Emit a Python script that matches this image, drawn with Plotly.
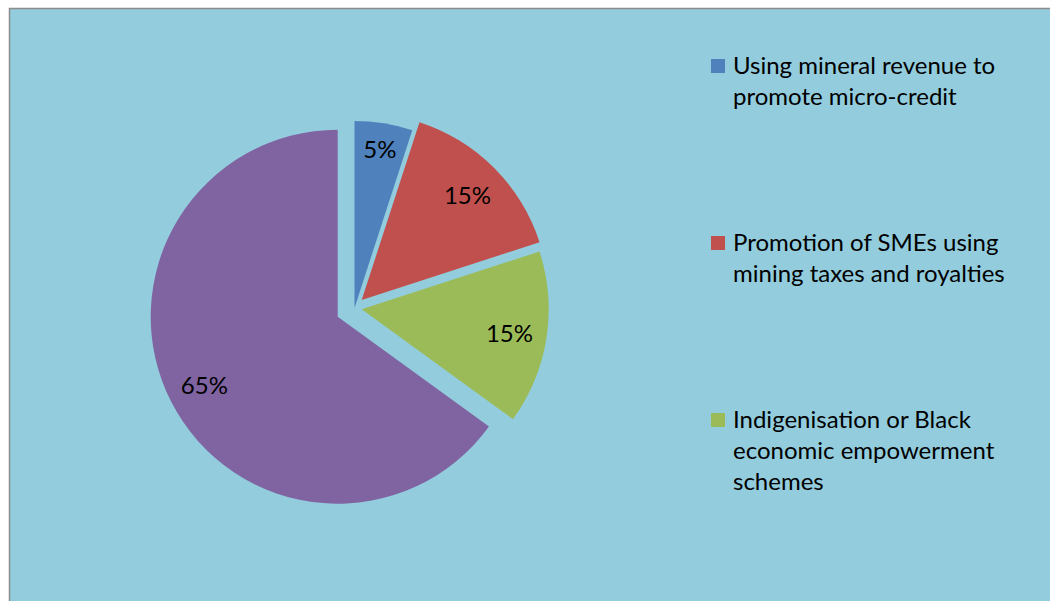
import plotly.graph_objects as go

# --- data -------------------------------------------------------------
categories = [
    "Using mineral revenue to promote micro-credit",
    "Promotion of SMEs using mining taxes and royalties",
    "Indigenisation or Black economic empowerment schemes",
    "Other",
]
shares = [5, 15, 15, 65]
legend_lines = [
    "Using mineral revenue to<br>promote micro-credit",
    "Promotion of SMEs using<br>mining taxes and royalties",
    "Indigenisation or Black<br>economic empowerment<br>schemes",
]

# --- styling / layout constants ----------------------------------------
W, H = 1050, 601
FONT = "Lato"
SLICE_COLORS = ["#4F81BD", "#C0504D", "#9BBB59", "#8064A2"]
CLEAR = "rgba(0,0,0,0)"
BG = "#93CDDD"
PIE_CX, PIE_CY, PIE_R = 337.7, 316.7, 187
# explosion offset (px) of each slice away from the common centre
EXPLODE = [(16.8, -8.7), (24.0, -16.7), (24.0, -7.4), (0.0, 0.0)]


def domain_for(cx, cy, r):
    return dict(x=[(cx - r) / W, (cx + r) / W],
                y=[1 - (cy + r) / H, 1 - (cy - r) / H])


fig = go.Figure()
n = len(shares)
for i in range(n):
    dom = domain_for(PIE_CX + EXPLODE[i][0], PIE_CY + EXPLODE[i][1], PIE_R)
    # filled wedge for slice i
    fig.add_trace(go.Pie(
        labels=categories, values=shares, sort=False,
        direction="clockwise", rotation=0,
        marker=dict(colors=[SLICE_COLORS[i] if j == i else CLEAR for j in range(n)],
                    line=dict(width=0)),
        textinfo="none", hoverinfo="skip", showlegend=False, domain=dom,
    ))
    # percentage label for slice i, placed in the outer ring
    fig.add_trace(go.Pie(
        labels=categories, values=shares, sort=False, hole=0.6,
        direction="clockwise", rotation=0,
        marker=dict(colors=[CLEAR] * n, line=dict(width=0)),
        text=[f"{v}%" if j == i else "" for j, v in enumerate(shares)],
        textinfo="text", textposition="inside",
        insidetextorientation="horizontal",
        insidetextfont=dict(family=FONT, size=24, color="black"),
        hoverinfo="skip", showlegend=False, domain=dom,
    ))

shapes = [
    dict(type="rect", xref="paper", yref="paper", layer="below",
         x0=9.5 / W, x1=1.02, y0=-0.02, y1=1 - 8.5 / H,
         fillcolor=BG, line=dict(color="#8C8C8C", width=1.5)),
]
annotations = []
LEG_X = 711
LEG_TOP = [59, 236, 413]
for k, text in enumerate(legend_lines):
    top = LEG_TOP[k]
    shapes.append(dict(type="rect", xref="paper", yref="paper",
                       x0=LEG_X / W, x1=(LEG_X + 14) / W,
                       y0=1 - (top + 14) / H, y1=1 - top / H,
                       fillcolor=SLICE_COLORS[k], line=dict(width=0)))
    annotations.append(dict(
        xref="paper", yref="paper", x=731 / W, y=1 - (top - 11) / H,
        xanchor="left", yanchor="top", align="left", showarrow=False,
        text=text, font=dict(family=FONT, size=24, color="black"),
    ))

fig.update_layout(
    width=W, height=H,
    margin=dict(l=0, r=0, t=0, b=0),
    paper_bgcolor="white", plot_bgcolor="white",
    shapes=shapes, annotations=annotations,
    showlegend=False,
)

fig.write_html("out.html")
